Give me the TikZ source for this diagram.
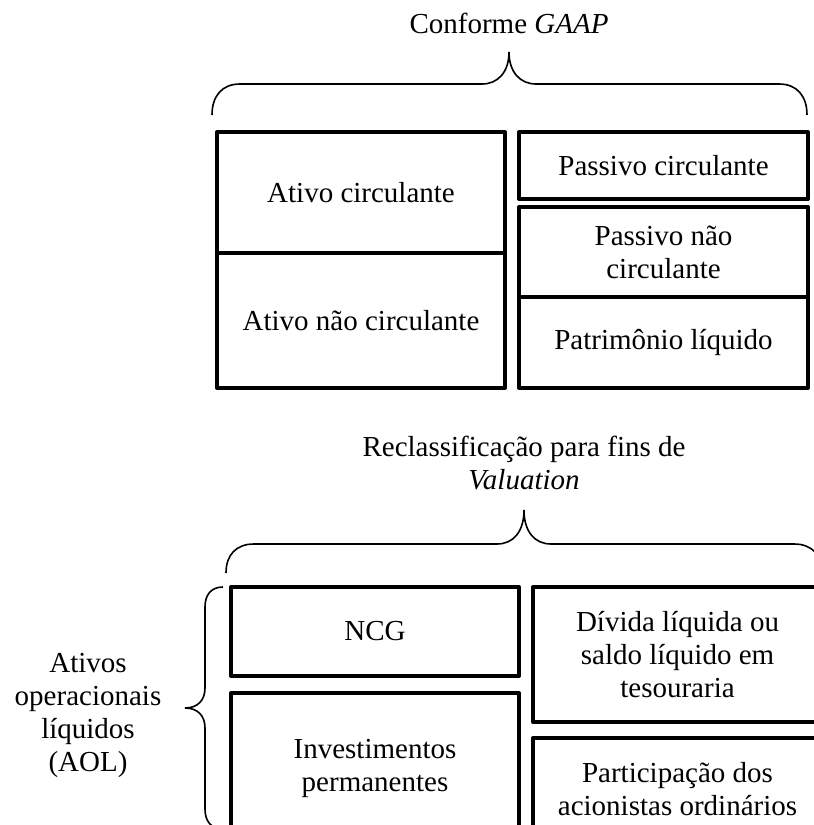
\documentclass[tikz,border=0pt]{standalone}
\usepackage{fontspec}
\setmainfont{Liberation Serif}
\usepackage{tikz}

\begin{document}
\begin{tikzpicture}
      [%%%%%%%%%%%%%%%%%%%%%%%%%%%%%%
      x=0.5pt,y=-0.5pt,
      every node/.style={font=\fontsize{14.5}{16.5}\selectfont},
      box/.style={rectangle,draw=black,line width=2pt,line join=round,inner sep=0pt,align=center},
      label/.style={align=center,inner sep=0pt},
      brace/.style={draw=black,line width=0.8pt},
      ]%%%%%%%%%%%%%%%%%%%%%%%%%%%%%%
      \useasboundingbox (0,0) rectangle (814,825);
      \clip (0,0) rectangle (814,825);

      % conforme GAAP
      \node[label,anchor=base] (gaap) at (509,33) {Conforme \textit{GAAP}};
      \draw[brace] (212,115) .. controls (212,96) and (222,84) .. (240,84) -- (482,84)
            .. controls (498,84) and (509,72) .. (509,52)
            .. controls (509,72) and (520,84) .. (536,84) -- (779,84)
            .. controls (797,84) and (807,96) .. (807,115);

      \node[box,minimum width=144pt,minimum height=60.5pt] (ac)  at (361,192.5) {Ativo circulante};
      \node[box,minimum width=144pt,minimum height=67.5pt] (anc) at (361,320.5) {Ativo não circulante};
      \node[box,minimum width=144.5pt,minimum height=33.5pt] (pc)  at (663.5,165.5) {Passivo circulante};
      \node[box,minimum width=144.5pt,minimum height=45pt]   (pnc) at (663.5,252) {Passivo não\\circulante};
      \node[box,minimum width=144.5pt,minimum height=45.5pt] (pl)  at (663.5,342.5) {Patrimônio líquido};

      % reclassificacao
      \node[label] (valu) at (524,463) {Reclassificação para fins de\\\textit{Valuation}};
      \draw[brace] (226,573) .. controls (226,555) and (236,544) .. (254,544) -- (497,544)
            .. controls (513,544) and (524,532) .. (524,510)
            .. controls (524,532) and (535,544) .. (551,544) -- (794,544)
            .. controls (812,544) and (822,555) .. (822,573);

      \node[box,minimum width=144pt,minimum height=44.5pt] (ncg)  at (375,631.5) {NCG};
      \node[box,minimum width=144pt,minimum height=75pt]   (inv)  at (375,768) {Investimentos\\permanentes};
      \node[box,minimum width=144.5pt,minimum height=67.5pt] (div)  at (677.5,654.5) {Dívida líquida ou\\saldo líquido em\\tesouraria};
      \node[box,minimum width=144.5pt,minimum height=51pt]   (part) at (677.5,789) {Participação dos\\acionistas ordinários};

      % AOL
      \node[label] (aol) at (88,715) {Ativos\\operacionais\\líquidos\\(AOL)};
      \draw[brace] (223,587) .. controls (211,587) and (205,595) .. (205,607) -- (205,688)
            .. controls (205,700) and (198,708) .. (185,708)
            .. controls (198,708) and (205,716) .. (205,728) -- (205,809)
            .. controls (205,821) and (211,829) .. (223,829);
\end{tikzpicture}
\end{document}
